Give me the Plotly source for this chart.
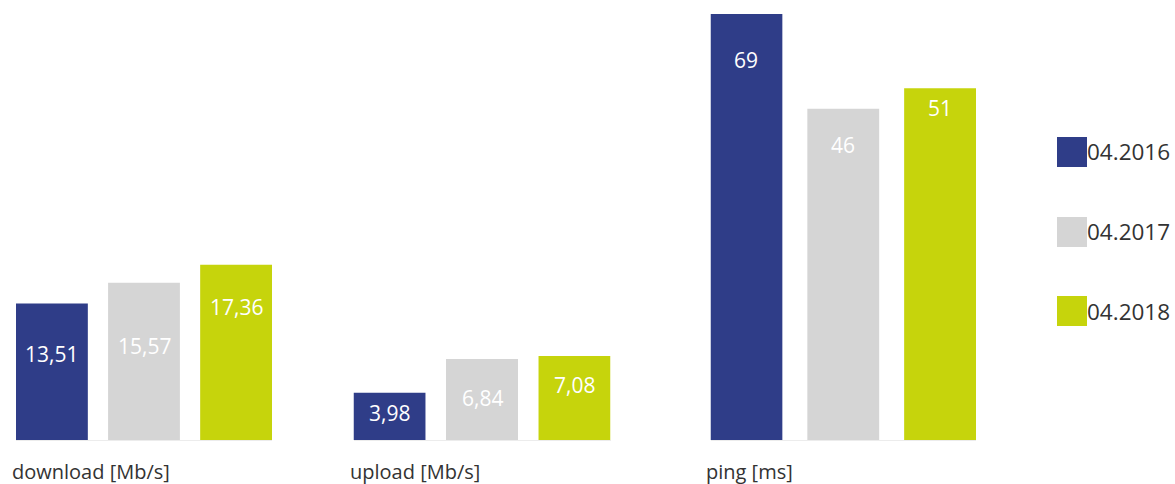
import plotly.graph_objects as go

# Measurement groups and survey dates
groups = ["download [Mb/s]", "upload [Mb/s]", "ping [ms]"]
periods = ["04.2016", "04.2017", "04.2018"]

download = [13.51, 15.57, 17.36]
upload = [3.98, 6.84, 7.08]
ping = [69, 46, 51]
group_values = [download, upload, ping]

colors = ["#2f3d88", "#d5d5d5", "#c6d40c"]
FONT = "Open Sans"
W, H = 1175, 484

# Per-group layout: x-domain in pixels, bar width (axis units), y-range
panels = [
    dict(px=(16, 272), width=0.78, yrange=[0, 42.18]),
    dict(px=(353.5, 610.5), width=0.778, yrange=[0, 35.95]),
    dict(px=(710.5, 976), width=0.742, yrange=[-34.4, 69]),
]
# How far (px) each value label sits below the top of its bar
label_drop = [[50, 63, 42], [20, 39, 29], [46, 36, 20]]

y_dom = [44 / H, (H - 14) / H]

fig = go.Figure()
annotations = []
shapes = []

for gi, (grp, vals, pan) in enumerate(zip(groups, group_values, panels)):
    sfx = "" if gi == 0 else str(gi + 1)
    xa, ya = "x" + sfx, "y" + sfx
    base = pan["yrange"][0]
    half = pan["width"] / 2
    xr = [-half, len(vals) - 1 + half]
    for si, (v, c) in enumerate(zip(vals, colors)):
        fig.add_trace(go.Bar(
            x=[si], y=[v - base], base=[base], width=[pan["width"]],
            marker=dict(color=c, line=dict(width=0)),
            xaxis=xa, yaxis=ya, showlegend=False, hoverinfo="skip",
        ))
        annotations.append(dict(
            x=si, y=v, xref=xa, yref=ya, text=f"{v:g}".replace(".", ","),
            showarrow=False, yanchor="middle", yshift=-label_drop[gi][si],
            font=dict(family=FONT, size=21, color="#ffffff"),
        ))
    annotations.append(dict(
        x=xr[0], y=13 / H, xref=xa, yref="paper", text=grp,
        showarrow=False, xanchor="left", yanchor="middle", xshift=-6,
        font=dict(family=FONT, size=20, color="#333333"),
    ))
    fig.layout["xaxis" + sfx] = dict(
        domain=[pan["px"][0] / W, pan["px"][1] / W], range=xr,
        anchor=ya, showgrid=False, zeroline=False, showticklabels=False,
        showline=True, linecolor="#ececec", linewidth=1, ticks="",
    )
    fig.layout["yaxis" + sfx] = dict(
        domain=y_dom, range=pan["yrange"], anchor=xa,
        visible=False, showgrid=False, zeroline=False,
    )

# Legend: square swatches with date labels
legend_y = [152, 232, 311]
for lab, c, yc in zip(periods, colors, legend_y):
    shapes.append(dict(
        type="rect", xref="paper", yref="paper",
        x0=1057 / W, x1=1087 / W, y0=(H - yc - 15) / H, y1=(H - yc + 15) / H,
        fillcolor=c, line=dict(width=0),
    ))
    annotations.append(dict(
        x=1085 / W, y=(H - yc) / H, xref="paper", yref="paper", text=lab,
        showarrow=False, xanchor="left", yanchor="middle",
        font=dict(family=FONT, size=22.5, color="#333333"),
    ))

fig.update_layout(
    width=W, height=H, margin=dict(l=0, r=0, t=0, b=0),
    paper_bgcolor="#ffffff", plot_bgcolor="#ffffff",
    annotations=annotations, shapes=shapes, barmode="overlay",
    showlegend=False,
)

fig.write_html("out.html")
